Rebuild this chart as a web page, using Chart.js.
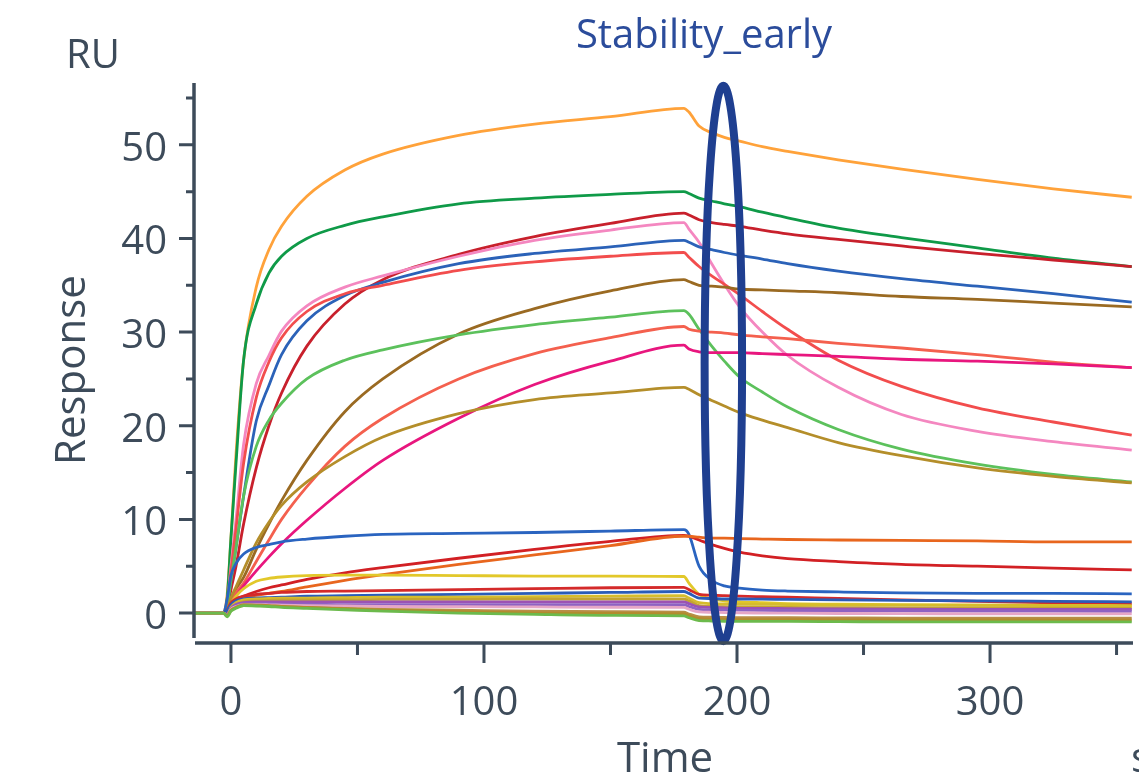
<!DOCTYPE html>
<html>
<head>
<meta charset="utf-8">
<script src="https://cdn.jsdelivr.net/npm/chart.js@4.4.1/dist/chart.umd.min.js"></script>
<style>
  html, body { margin: 0; padding: 0; background: #fff; }
  #wrap { width: 1139px; height: 776px; position: relative; }
</style>
</head>
<body>
<div id="wrap"><canvas id="sensorgram"></canvas></div>
<script>
// time points (s) shared by every curve
const TIME = [-15, -3, -1.5, 0, 2, 5, 10, 15, 20, 30, 45, 60, 90, 120, 150, 179,
              181, 185, 190, 195, 201, 210, 220, 240, 265, 295, 325, 356];

// response (RU) per curve, one value per time point
const orange   = [0, 0, 2.0, 8.0, 17.0, 27.0, 34.8, 38.8, 41.3, 44.5, 47.3, 49.0, 51.0, 52.2, 53.0, 53.9, 53.5, 52.0, 51.3, 50.8, 50.4, 49.8, 49.3, 48.4, 47.4, 46.3, 45.3, 44.4];
const dkGreen  = [0, 0, 1.5, 8.0, 16.0, 27.0, 33.0, 36.3, 38.1, 40.0, 41.4, 42.3, 43.7, 44.3, 44.7, 45.0, 44.8, 44.3, 44.0, 43.7, 43.4, 42.8, 42.2, 41.1, 40.1, 39.0, 37.9, 37.0];
const dkRed    = [0, 0, 0.5, 2.5, 5.0, 9.5, 15.5, 20.0, 23.5, 28.5, 33.0, 35.6, 38.3, 40.2, 41.6, 42.7, 42.5, 42.0, 41.7, 41.5, 41.3, 40.9, 40.5, 39.9, 39.2, 38.4, 37.7, 37.0];
const pink     = [0, 0, 1.0, 5.0, 10.0, 18.0, 24.5, 27.5, 30.1, 32.8, 34.8, 36.0, 38.1, 39.8, 40.9, 41.7, 41.0, 39.6, 37.3, 35.1, 32.7, 30.0, 27.5, 24.1, 21.2, 19.4, 18.3, 17.4];
const blueHi   = [0, 0, 0.8, 3.5, 7.0, 12.5, 20.5, 24.3, 27.6, 31.2, 33.9, 35.3, 37.3, 38.4, 39.1, 39.8, 39.6, 39.1, 38.8, 38.5, 38.2, 37.8, 37.3, 36.5, 35.7, 34.9, 34.1, 33.2];
const salmonHi = [0, 0, 1.0, 4.5, 9.0, 16.0, 23.0, 26.8, 29.4, 32.2, 34.1, 35.0, 36.6, 37.5, 38.1, 38.5, 38.0, 37.0, 36.0, 35.1, 34.0, 32.2, 30.3, 27.0, 24.2, 21.9, 20.4, 19.0];
const brown    = [0, 0, 0.5, 1.5, 2.6, 3.8, 6.8, 9.5, 12.0, 16.3, 21.5, 25.0, 29.8, 32.5, 34.4, 35.6, 35.4, 35.0, 34.9, 34.8, 34.6, 34.5, 34.4, 34.2, 33.8, 33.5, 33.1, 32.7];
const ltGreen  = [0, 0, 0.8, 3.5, 7.0, 12.5, 17.8, 20.6, 22.4, 25.0, 27.0, 28.1, 29.7, 30.8, 31.6, 32.3, 31.9, 30.3, 28.5, 26.9, 25.2, 23.6, 22.0, 19.6, 17.5, 15.9, 14.8, 14.0];
const salmonLo = [0, 0, 0.3, 1.3, 2.2, 3.2, 5.5, 7.8, 10.0, 13.5, 17.8, 20.8, 25.0, 27.7, 29.4, 30.6, 30.3, 30.1, 30.0, 29.9, 29.7, 29.5, 29.3, 28.8, 28.3, 27.6, 26.8, 26.2];
const magenta  = [0, 0, 0.3, 1.0, 1.8, 2.9, 4.5, 6.0, 7.4, 9.9, 13.3, 16.3, 20.8, 24.4, 26.9, 28.6, 28.2, 27.9, 27.8, 27.8, 27.8, 27.7, 27.6, 27.4, 27.1, 26.9, 26.6, 26.2];
const olive    = [0, 0, 0.5, 1.6, 2.8, 4.6, 7.5, 9.7, 11.5, 14.0, 16.7, 18.8, 21.3, 22.8, 23.5, 24.1, 23.9, 23.3, 22.7, 22.1, 21.4, 20.6, 19.8, 18.2, 16.8, 15.5, 14.6, 13.9];
const blueLo   = [0, 0, 1.5, 4.0, 5.3, 6.3, 7.0, 7.3, 7.6, 7.9, 8.2, 8.4, 8.5, 8.6, 8.75, 8.9, 8.4, 5.0, 3.5, 2.9, 2.65, 2.45, 2.35, 2.25, 2.15, 2.1, 2.1, 2.05];
const redLo    = [0, 0, 0.3, 1.0, 1.4, 1.8, 2.3, 2.7, 3.0, 3.6, 4.3, 4.85, 5.85, 6.8, 7.65, 8.3, 8.2, 7.8, 7.3, 6.9, 6.5, 6.1, 5.8, 5.5, 5.2, 5.0, 4.8, 4.6];
const orangeLo = [0, 0, 0.2, 0.6, 1.5, 1.7, 1.9, 2.1, 2.3, 2.8, 3.5, 4.1, 5.2, 6.2, 7.2, 8.2, 8.2, 8.1, 8.0, 8.0, 7.95, 7.9, 7.85, 7.8, 7.75, 7.7, 7.6, 7.6];
const yellow   = [0, 0, 0.2, 1.0, 1.8, 2.6, 3.4, 3.7, 3.85, 4.0, 4.05, 4.05, 4.0, 3.95, 3.95, 3.9, 3.2, 2.0, 1.5, 1.3, 1.2, 1.1, 1.0, 0.95, 0.9, 0.85, 0.8, 0.75];
const redLo2   = [0, 0, 0.3, 1.1, 1.5, 1.8, 2.0, 2.1, 2.2, 2.3, 2.35, 2.4, 2.5, 2.6, 2.7, 2.75, 2.5, 2.0, 1.9, 1.85, 1.8, 1.75, 1.7, 1.55, 1.4, 1.25, 1.1, 1.0];
const blueLo2  = [0, 0, 0.3, 0.9, 1.3, 1.5, 1.6, 1.65, 1.7, 1.8, 1.85, 1.9, 2.0, 2.1, 2.2, 2.3, 2.1, 1.6, 1.55, 1.5, 1.5, 1.48, 1.45, 1.4, 1.35, 1.3, 1.25, 1.2];
const gold1    = [0, 0, -0.2, 0.6, 1.1, 1.4, 1.5, 1.55, 1.6, 1.6, 1.65, 1.7, 1.7, 1.75, 1.8, 1.85, 1.6, 1.1, 1.0, 0.98, 0.95, 0.93, 0.9, 0.88, 0.85, 0.85, 0.82, 0.8];
const olive2   = [0, 0, -0.2, 0.5, 0.9, 1.2, 1.3, 1.35, 1.4, 1.4, 1.4, 1.45, 1.45, 1.5, 1.5, 1.5, 1.3, 0.8, 0.7, 0.68, 0.65, 0.63, 0.6, 0.58, 0.55, 0.55, 0.52, 0.5];
const purple   = [0, 0, -0.2, 0.5, 0.9, 1.1, 1.2, 1.2, 1.2, 1.2, 1.2, 1.2, 1.2, 1.2, 1.2, 1.2, 1.0, 0.65, 0.6, 0.55, 0.5, 0.5, 0.48, 0.45, 0.42, 0.4, 0.4, 0.38];
const purple2  = [0, 0, -0.2, 0.4, 0.8, 1.0, 1.0, 1.0, 0.95, 0.95, 0.9, 0.9, 0.9, 0.9, 0.9, 0.9, 0.7, 0.4, 0.35, 0.33, 0.3, 0.28, 0.27, 0.25, 0.22, 0.2, 0.2, 0.18];
const pinkLo   = [0, 0, -0.3, 0.4, 0.7, 0.9, 0.9, 0.88, 0.85, 0.8, 0.75, 0.7, 0.68, 0.65, 0.62, 0.6, 0.4, 0.12, 0.08, 0.05, 0.02, 0.0, -0.02, -0.05, -0.07, -0.08, -0.1, -0.1];
const tan      = [0, 0, -0.3, 0.3, 0.6, 0.8, 0.8, 0.75, 0.7, 0.6, 0.5, 0.4, 0.3, 0.2, 0.15, 0.1, -0.1, -0.4, -0.45, -0.47, -0.5, -0.5, -0.5, -0.52, -0.55, -0.55, -0.55, -0.55];
const green3   = [0, 0, -0.4, 0.2, 0.5, 0.8, 0.75, 0.7, 0.6, 0.5, 0.35, 0.2, 0.0, -0.15, -0.25, -0.3, -0.5, -0.8, -0.85, -0.88, -0.9, -0.9, -0.9, -0.92, -0.95, -0.95, -0.95, -0.95];
const goldBrn  = [0, 0, -0.3, 0.3, 0.6, 0.9, 0.85, 0.8, 0.7, 0.6, 0.45, 0.3, 0.15, 0.0, -0.05, -0.1, -0.3, -0.6, -0.65, -0.68, -0.7, -0.7, -0.7, -0.72, -0.72, -0.72, -0.75, -0.75];

// axis ticks
const X_MAJOR = [0, 100, 200, 300];
const X_MINOR = [50, 150, 250, 350];
const Y_MAJOR = [0, 10, 20, 30, 40, 50];
const Y_MINOR = [5, 15, 25, 35, 45, 55];

const CURVES = [
    [green3, '#6cba4c'], [goldBrn, '#b28c2c'], [tan, '#b88e46'], [pinkLo, '#e6a6c6'],
    [purple2, '#8e62c2'], [purple, '#9c52b4'], [olive2, '#c4a432'], [gold1, '#d6bc2c'],
    [blueLo2, '#2a5cb8'], [redLo2, '#d42a2a'], [yellow, '#e2c82a'], [orangeLo, '#e8661e'],
    [redLo, '#d22024'], [blueLo, '#2a64c0'],
    [olive, '#b48e2a'], [magenta, '#e8167e'], [salmonLo, '#f4604e'], [ltGreen, '#5cc15c'],
    [brown, '#9a6a22'], [salmonHi, '#f24d4d'], [blueHi, '#2b62b8'], [pink, '#f487c0'],
    [dkRed, '#c8202c'], [dkGreen, '#0f9a48'], [orange, '#ffa23a']
];

// marked region: centre time, centre RU, half width (s), half height (RU)
const MARK = { t: 194.6, ru: 26.65, dt: 7.4, dru: 29.65 };

const INK = '#3d4b5a';
const TICK_FONT = '40px "Open Sans"';
const TITLE_FONT = '42px "Open Sans"';

const sensorAxes = {
    id: 'sensorAxes',
    afterDatasetsDraw(chart) {
        const ctx = chart.ctx;
        const xs = chart.scales.x, ys = chart.scales.y;
        const cx = xs.getPixelForValue(MARK.t), cy = ys.getPixelForValue(MARK.ru);
        const rx = Math.abs(xs.getPixelForValue(MARK.t + MARK.dt) - cx);
        const ry = Math.abs(ys.getPixelForValue(MARK.ru + MARK.dru) - cy);
        ctx.save();
        ctx.beginPath();
        ctx.ellipse(cx, cy, rx, ry, 0, 0, Math.PI * 2);
        ctx.strokeStyle = '#1f3f90';
        ctx.lineWidth = 8;
        ctx.stroke();
        ctx.restore();
    },
    afterDraw(chart) {
        const ctx = chart.ctx;
        const area = chart.chartArea;
        const xs = chart.scales.x, ys = chart.scales.y;
        const axisX = area.left + 1;
        const axisY = area.bottom;
        ctx.save();
        ctx.strokeStyle = INK;
        ctx.fillStyle = INK;
        ctx.lineWidth = 3.5;
        ctx.lineCap = 'butt';

        // axis lines
        ctx.beginPath();
        ctx.moveTo(axisX, area.top);
        ctx.lineTo(axisX, axisY - 5);
        ctx.moveTo(axisX + 1, axisY);
        ctx.lineTo(area.right, axisY);
        ctx.stroke();

        ctx.lineWidth = 3;
        ctx.beginPath();
        for (const v of Y_MAJOR) {
            const y = ys.getPixelForValue(v);
            ctx.moveTo(axisX - 15, y); ctx.lineTo(axisX, y);
        }
        for (const v of Y_MINOR) {
            const y = ys.getPixelForValue(v);
            ctx.moveTo(axisX - 8, y); ctx.lineTo(axisX, y);
        }
        for (const v of X_MAJOR) {
            const x = xs.getPixelForValue(v);
            ctx.moveTo(x, axisY); ctx.lineTo(x, axisY + 20);
        }
        for (const v of X_MINOR) {
            const x = xs.getPixelForValue(v);
            ctx.moveTo(x, axisY); ctx.lineTo(x, axisY + 12);
        }
        ctx.stroke();

        ctx.font = TICK_FONT;
        ctx.textBaseline = 'alphabetic';
        ctx.textAlign = 'right';
        for (const v of Y_MAJOR) {
            ctx.fillText(String(v), axisX - 27, ys.getPixelForValue(v) + 16);
        }
        ctx.textAlign = 'center';
        for (const v of X_MAJOR) {
            ctx.fillText(String(v), xs.getPixelForValue(v), axisY + 72);
        }

        ctx.textAlign = 'left';
        ctx.fillText('RU', 66, 68);

        ctx.font = TITLE_FONT;
        ctx.fillText('s', 1131, 772);
        ctx.textAlign = 'center';
        ctx.fillText('Time', 665, 772);

        ctx.save();
        ctx.translate(85, 370);
        ctx.rotate(-Math.PI / 2);
        ctx.fillText('Response', 0, 0);
        ctx.restore();

        ctx.font = TICK_FONT;
        ctx.fillStyle = '#2b4c9b';
        ctx.fillText('Stability_early', 704, 48);
        ctx.restore();
    }
};

const datasets = CURVES.map(([vals, color]) => ({
    data: TIME.map((t, i) => ({ x: t, y: vals[i] })),
    borderColor: color,
    borderWidth: 2.8,
    pointRadius: 0,
    fill: false,
    cubicInterpolationMode: 'monotone'
}));

const config = {
    type: 'line',
    data: { datasets: datasets },
    plugins: [sensorAxes],
    options: {
        responsive: true,
        maintainAspectRatio: false,
        animation: false,
        events: [],
        layout: { padding: { left: 193, right: 6, top: 83, bottom: 133 } },
        scales: {
            x: { type: 'linear', min: -15, max: 356.5, display: false },
            y: { type: 'linear', min: -3.2, max: 56.6, display: false }
        },
        plugins: {
            legend: { display: false },
            tooltip: { enabled: false }
        }
    }
};

document.fonts.load(TITLE_FONT).finally(() => {
    const ctx = document.getElementById('sensorgram').getContext('2d');
    new Chart(ctx, config);
});
</script>
</body>
</html>
